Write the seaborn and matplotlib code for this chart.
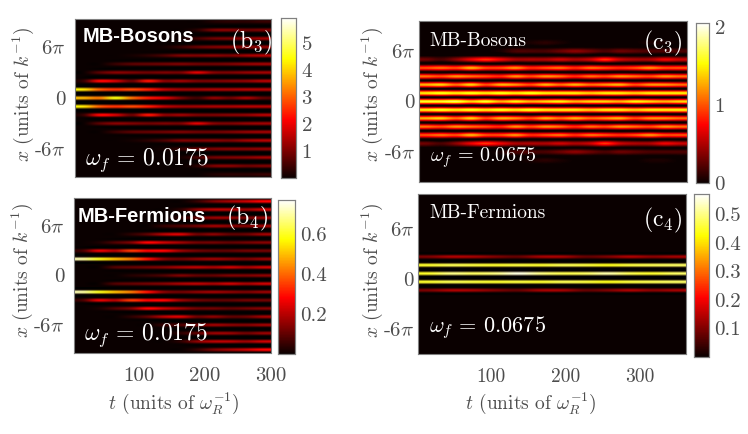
import numpy as np
import pandas as pd
import matplotlib
matplotlib.use('Agg')
import matplotlib.pyplot as plt
import seaborn as sns

# stripe intensities, one row per fringe k = 0..9 (mirrored for -k), one column per time bin
b3_stripes = [
    [3.8, 3.3, 4.5, 3.2, 2.4, 1.9, 1.0, 0.5, 1.2, 0.9, 1.4, 0.8],
    [4.2, 3.0, 2.6, 2.8, 2.4, 1.6, 1.3, 1.3, 1.4, 1.4, 1.5, 1.5],
    [0.4, 2.2, 1.8, 0.9, 2.3, 1.2, 1.3, 1.0, 1.0, 1.1, 1.2, 1.5],
    [0.0, 0.7, 1.1, 1.0, 0.9, 1.0, 1.0, 1.9, 1.1, 1.0, 1.2, 1.3],
    [0.0, 0.0, 0.4, 0.7, 0.8, 0.9, 1.0, 0.9, 0.9, 1.0, 1.2, 1.3],
    [0.0, 0.0, 0.0, 0.1, 0.3, 0.6, 1.0, 1.0, 1.1, 1.0, 1.3, 1.5],
    [0.0, 0.0, 0.0, 0.0, 0.0, 0.1, 0.4, 0.8, 1.0, 1.1, 1.1, 1.2],
    [0.0, 0.0, 0.0, 0.0, 0.0, 0.0, 0.1, 0.5, 0.9, 1.0, 1.1, 1.3],
    [0.0, 0.0, 0.0, 0.0, 0.0, 0.0, 0.0, 0.3, 1.0, 1.1, 0.9, 1.0],
    [0.0, 0.0, 0.0, 0.0, 0.0, 0.0, 0.0, 0.0, 0.2, 0.3, 0.3, 0.4],
]
b4_stripes = [
    [0.0, 0.0, 0.0, 0.03, 0.05, 0.08, 0.13, 0.1, 0.1, 0.13, 0.13, 0.15],
    [0.0, 0.0, 0.08, 0.1, 0.12, 0.14, 0.18, 0.2, 0.18, 0.22, 0.18, 0.22],
    [0.7, 0.6, 0.5, 0.42, 0.3, 0.15, 0.12, 0.15, 0.17, 0.15, 0.13, 0.16],
    [0.07, 0.25, 0.2, 0.34, 0.28, 0.28, 0.17, 0.12, 0.1, 0.1, 0.12, 0.12],
    [0.0, 0.02, 0.08, 0.14, 0.28, 0.22, 0.17, 0.12, 0.12, 0.1, 0.12, 0.14],
    [0.0, 0.0, 0.0, 0.04, 0.1, 0.2, 0.24, 0.12, 0.15, 0.1, 0.11, 0.17],
    [0.0, 0.0, 0.0, 0.0, 0.0, 0.05, 0.08, 0.12, 0.17, 0.15, 0.14, 0.17],
    [0.0, 0.0, 0.0, 0.0, 0.0, 0.0, 0.04, 0.1, 0.16, 0.16, 0.12, 0.16],
    [0.0, 0.0, 0.0, 0.0, 0.0, 0.0, 0.04, 0.15, 0.2, 0.2, 0.17, 0.22],
    [0.0, 0.0, 0.0, 0.0, 0.0, 0.0, 0.0, 0.05, 0.13, 0.18, 0.22, 0.28],
]
c3_stripes = [
    [1.6, 1.6, 1.7, 1.4, 1.6, 1.3, 1.5, 1.3, 1.4, 1.5, 1.3, 1.4, 1.4, 1.3, 1.5, 1.4, 1.3, 1.4],
    [1.5, 1.6, 1.5, 1.6, 1.5, 1.6, 1.5, 1.6, 1.5, 1.5, 1.5, 1.4, 1.5, 1.5, 1.4, 1.5, 1.5, 1.5],
    [1.3, 1.4, 1.1, 1.4, 1.0, 1.3, 1.2, 1.0, 1.3, 1.1, 1.3, 1.1, 1.2, 1.3, 1.0, 1.2, 1.2, 1.1],
    [1.1, 1.0, 1.2, 1.1, 1.0, 0.9, 1.2, 1.0, 1.2, 1.1, 0.9, 1.1, 1.0, 1.2, 1.1, 1.0, 1.2, 1.1],
    [1.0, 1.1, 1.0, 1.3, 1.0, 1.0, 1.2, 0.9, 1.0, 1.1, 0.9, 1.1, 1.0, 0.9, 1.0, 1.2, 1.0, 1.0],
    [0.3, 0.2, 0.4, 0.7, 0.9, 0.7, 0.5, 0.5, 0.5, 0.6, 0.5, 0.6, 0.9, 0.6, 0.5, 0.5, 0.7, 0.6],
    [0.0, 0.0, 0.0, 0.0, 0.0, 0.05, 0.2, 0.2, 0.2, 0.3, 0.4, 0.3, 0.2, 0.3, 0.25, 0.2, 0.2, 0.2],
    [0.0, 0.0, 0.0, 0.0, 0.0, 0.0, 0.0, 0.05, 0.1, 0.05, 0.0, 0.0, 0.0, 0.0, 0.0, 0.05, 0.05, 0.0],
]
c4_stripes = [
    [0.45, 0.5, 0.48, 0.5, 0.55, 0.5, 0.47, 0.48, 0.52, 0.47, 0.45, 0.48],
    [0.45, 0.47, 0.46, 0.45, 0.46, 0.45, 0.47, 0.46, 0.44, 0.46, 0.47, 0.48],
    [0.1, 0.14, 0.13, 0.1, 0.08, 0.13, 0.13, 0.08, 0.1, 0.14, 0.11, 0.13],
]

b3_ticks = [1, 2, 3, 4, 5]
b4_ticks = [0.2, 0.4, 0.6]
c3_ticks = [0, 1, 2]
c4_ticks = [0.1, 0.2, 0.3, 0.4, 0.5]
t_ticks = [100, 200, 300]

W, H = 748, 434
GREY = '#4d4d4d'

sns.set_style('white')
plt.rcParams['font.family'] = ['cmr10', 'DejaVu Sans']
plt.rcParams['mathtext.fontset'] = 'cm'
plt.rcParams['axes.formatter.use_mathtext'] = True

fig = plt.figure(figsize=(W / 100, H / 100), dpi=100)


def rect(x0, y0, x1, y1):
    return [x0 / W, 1 - y1 / H, (x1 - x0) / W, (y1 - y0) / H]


def label(x, y, s, **kw):
    return fig.text(x / W, 1 - y / H, s, va='center', **kw)


def panel(stripes, box, cbox, vmax, cticks, tmax, half, show_t=False, tick_size=15, t_size=15,
          zero_shift=0, y_pad=7, rows=3):
    # rows per fringe spacing: one fringe row, the others dark
    stripes = np.array(stripes)
    ncol = stripes.shape[1]
    nrow = 20 * rows + 1
    mid = 10 * rows
    mat = np.zeros((nrow, ncol))
    for k, row in enumerate(stripes):
        mat[mid - rows * k] = row
        mat[mid + rows * k] = row
    df = pd.DataFrame(mat)

    ax = fig.add_axes(rect(*box))
    cax = fig.add_axes(rect(*cbox))
    sns.heatmap(df, ax=ax, cbar_ax=cax, cmap='hot', vmin=0, vmax=vmax,
                xticklabels=False, yticklabels=False)
    # same cells again, with smoothing between them
    ax.imshow(mat, cmap='hot', vmin=0, vmax=vmax, aspect='auto', zorder=2,
              interpolation='catrom', extent=(0, ncol, nrow, 0))
    ax.set_xlim(0, ncol)
    y0 = mid + 0.5
    ax.set_ylim(y0 + rows * half, y0 - rows * half)

    ax.set_yticks([y0 + rows * (d + zero_shift) for d in (-6, 0, 6)])
    ax.set_yticklabels([r'$6\pi$', '0', r'-$6\pi$'], fontsize=tick_size, color=GREY)
    if show_t:
        ax.set_xticks([(t - 1) / (tmax - 1) * ncol for t in t_ticks])
        ax.set_xticklabels(t_ticks, fontsize=t_size, color=GREY, rotation=0)
    ax.tick_params(length=0)
    ax.tick_params(axis='y', pad=y_pad)
    ax.tick_params(axis='x', pad=10)
    for s in ax.spines.values():
        s.set_visible(True)
        s.set_color('#808080')
        s.set_linewidth(0.8)

    cax.set_yticks(cticks)
    cax.set_yticklabels([str(c) for c in cticks], fontsize=tick_size, color=GREY)
    cax.tick_params(axis='y', direction='in', length=2, width=0.6, color=GREY, pad=4, right=True)
    for s in cax.spines.values():
        s.set_visible(True)
        s.set_color('#808080')
        s.set_linewidth(0.8)
    return ax


panel(b3_stripes, (75, 19, 271, 177), (281, 18, 296, 178), 5.94, b3_ticks, 301, 9.3)
panel(b4_stripes, (74, 198, 271, 353), (278, 200, 295, 354), 0.77, b4_ticks, 301, 9.4, show_t=True)
panel(c3_stripes, (419, 21, 687, 182), (696, 23, 709, 183), 2.05, c3_ticks, 363, 9.6, y_pad=3, rows=2)
panel(c4_stripes, (418, 194, 686, 354), (694, 194, 709, 357), 0.57, c4_ticks, 363, 9.6, show_t=True,
      t_size=14, zero_shift=0.6, y_pad=3)

# panel texts
label(83, 37, 'MB-Bosons', color='white', fontsize=14.5, fontweight='bold', family='Liberation Sans')
label(78, 216, 'MB-Fermions', color='white', fontsize=14.5, fontweight='bold', family='Liberation Sans')
label(429, 41, 'MB-Bosons', color='white', fontsize=14)
label(429, 213, 'MB-Fermions', color='white', fontsize=14)
label(230, 42, r'$\mathrm{(b_3)}$', color='white', fontsize=17)
label(226, 218, r'$\mathrm{(b_4)}$', color='white', fontsize=17)
label(643, 43, r'$\mathrm{(c_3)}$', color='white', fontsize=17)
label(643, 220, r'$\mathrm{(c_4)}$', color='white', fontsize=17)
label(85, 160, r'$\omega_f\,=\,0.0175$', color='white', fontsize=17)
label(84, 335, r'$\omega_f\,=\,0.0175$', color='white', fontsize=17)
label(430, 158, r'$\omega_f\,=\,0.0675$', color='white', fontsize=14.5)
label(429, 328, r'$\omega_f\,=\,0.0675$', color='white', fontsize=16)

# axis titles
ylab = r'$x$ (units of $k^{-1}$)'
xlab = r'$t$ (units of $\omega_R^{-1}$)'
label(23, 95, ylab, color=GREY, fontsize=14, rotation=90, ha='center')
label(22, 271, ylab, color=GREY, fontsize=14, rotation=90, ha='center')
label(372, 95, ylab, color=GREY, fontsize=14, rotation=90, ha='center')
label(372, 271, ylab, color=GREY, fontsize=14, rotation=90, ha='center')
label(174, 403, xlab, color=GREY, fontsize=14, ha='center')
label(531, 403, xlab, color=GREY, fontsize=14, ha='center')

fig.savefig('out.png', dpi=100)
